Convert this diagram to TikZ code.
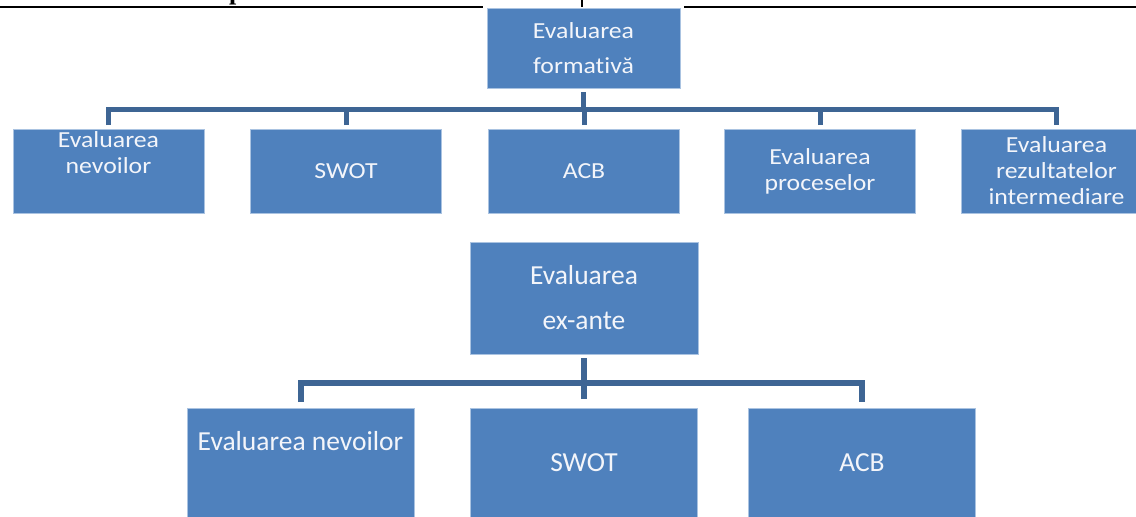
\documentclass[tikz,border=0pt]{standalone}
\usepackage{fontspec}
\setmainfont[Ligatures=NoCommon]{Carlito}
\newfontfamily\rowfont[FakeStretch=1.12,Ligatures=NoCommon]{Carlito}
\newfontfamily\pagefont{Liberation Serif}
\usetikzlibrary{positioning}
\definecolor{boxblue}{RGB}{79,129,189}
\definecolor{boxedge}{RGB}{170,195,225}
\definecolor{lineblue}{RGB}{62,101,148}
\definecolor{boxtext}{RGB}{243,245,250}

\begin{document}
\begin{tikzpicture}[x=1pt,y=-1pt,
  box/.style={fill=boxblue,draw=boxedge,line width=0.6pt,inner sep=0pt,outer sep=0pt,text=boxtext,align=center},
  topbox/.style={box,minimum width=193pt,minimum height=80pt,font=\rowfont\fontsize{23}{35}\selectfont},
  rowbox/.style={box,minimum width=191pt,minimum height=84pt,font=\rowfont\fontsize{23}{26}\selectfont},
  rowtext/.style={inner sep=0pt,text=boxtext,align=center,font=\rowfont\fontsize{23}{26}\selectfont},
  bigbox/.style={box,minimum width=228pt,minimum height=112pt,font=\fontsize{27.5}{45}\selectfont},
  lowbox/.style={box,minimum width=227pt,minimum height=110pt,font=\fontsize{27.5}{33}\selectfont},
  lowtext/.style={inner sep=0pt,text=boxtext,font=\fontsize{27.5}{33}\selectfont},
  conn/.style={draw=lineblue,line width=5pt},
  lowconn/.style={draw=lineblue,line width=6pt},
  rule/.style={draw=black,line width=2pt}]
  \useasboundingbox (0,0) rectangle (1136,517);
  % Table rule above the chart
  \draw[rule] (0,7) -- (483,7);
  \draw[rule] (684,7) -- (1136,7);
  \draw[rule] (582,0) -- (582,7);
  \node[inner sep=0pt,anchor=base west,font=\pagefont\bfseries\fontsize{26}{26}\selectfont] (pfrag) at (229,-1) {p};
  % Formative evaluation
  \node[topbox] (form) at (583.5,48) {Evaluarea\\formativă};
  \node[rowbox] (r1) at (108.5,171) {};
  \node[rowtext,below=2pt of r1.north] (r1text) {Evaluarea\\nevoilor};
  \node[rowbox] (r2) at (346,171) {SWOT};
  \node[rowbox] (r3) at (584,171) {ACB};
  \node[rowbox] (r4) at (820,171) {Evaluarea\\proceselor};
  \node[rowbox] (r5) at (1056.5,171) {Evaluarea\\rezultatelor\\intermediare};
  \draw[conn] ([yshift=-4pt]form.south) -- ++(0,17);
  \draw[conn] ([yshift=4pt]r1.north) -- ++(0,-16) -| ([yshift=4pt]r5.north);
  \foreach \n in {r2,r3,r4}
    \draw[conn] ([yshift=4pt]\n.north) -- ++(0,-16);
  % Ex-ante evaluation
  \node[bigbox] (exante) at (584,298) {Evaluarea\\ex-ante};
  \node[lowbox] (b1) at (300.5,463) {};
  \node[lowtext,below=23pt of b1.north] (b1text) {Evaluarea nevoilor};
  \node[lowbox] (b2) at (584,463) {SWOT};
  \node[lowbox] (b3) at (862,463) {ACB};
  \draw[lowconn] ([yshift=-4pt]exante.south) -- ([yshift=9pt]b2.north);
  \draw[lowconn] ([yshift=6pt]b1.north) -- ++(0,-19) -| ([yshift=6pt]b3.north);
\end{tikzpicture}
\end{document}
